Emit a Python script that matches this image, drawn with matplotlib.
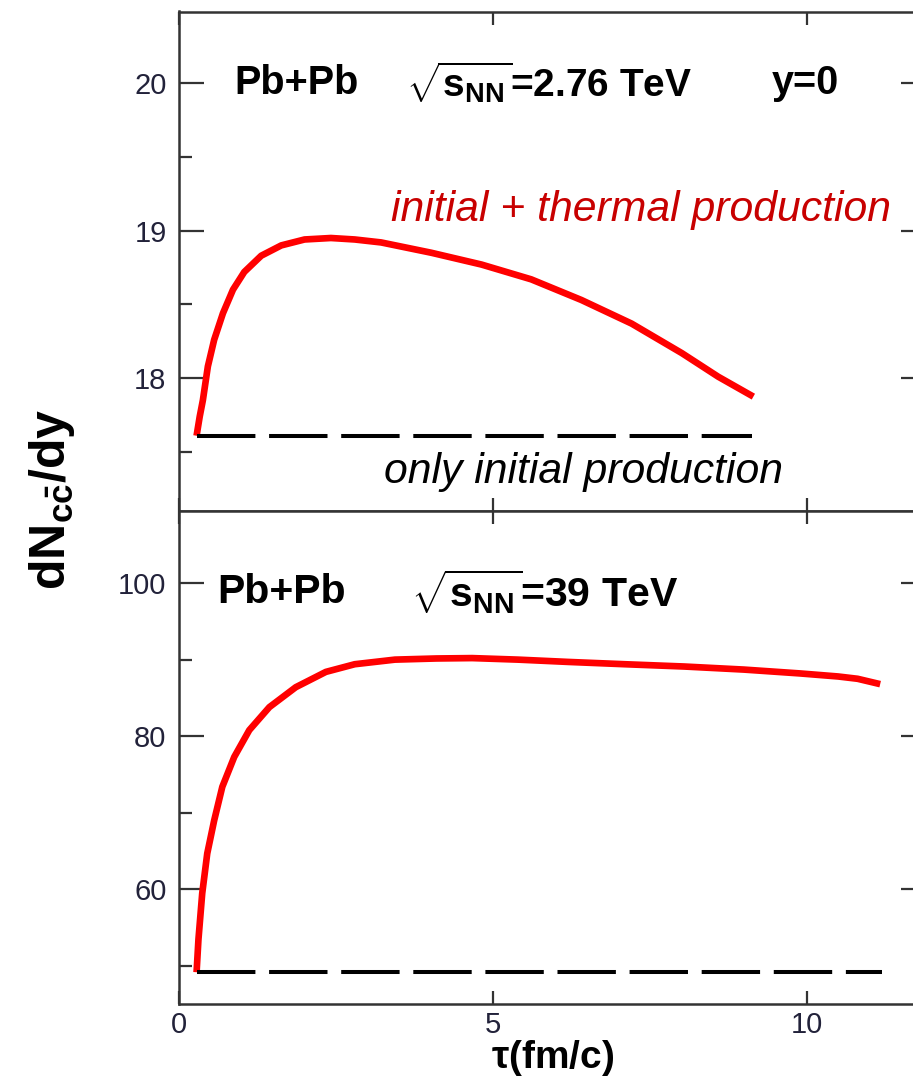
import matplotlib
matplotlib.use("Agg")
import matplotlib.pyplot as plt
from matplotlib.ticker import MultipleLocator

plt.rcParams['font.family'] = ['Liberation Sans', 'DejaVu Sans']
plt.rcParams['mathtext.fontset'] = 'custom'
plt.rcParams['mathtext.rm'] = 'Liberation Sans'
plt.rcParams['mathtext.bf'] = 'Liberation Sans:bold'
plt.rcParams['mathtext.default'] = 'bf'

# Pb+Pb at 2.76 TeV, y=0
tau_lhc = [0.28, 0.33, 0.38, 0.46, 0.56, 0.70, 0.86, 1.04, 1.31, 1.63, 2.00,
           2.42, 2.80, 3.22, 4.02, 4.82, 5.61, 6.41, 7.21, 8.01, 8.59, 9.15]
n_lhc = [17.61, 17.74, 17.85, 18.08, 18.26, 18.44, 18.60, 18.72, 18.83, 18.90,
         18.94, 18.95, 18.94, 18.92, 18.85, 18.77, 18.67, 18.53, 18.37, 18.17,
         18.01, 17.875]
n0_lhc = 17.61
tau_end_lhc = 9.13

# Pb+Pb at 39 TeV
tau_fcc = [0.28, 0.31, 0.37, 0.45, 0.56, 0.69, 0.88, 1.12, 1.44, 1.86, 2.34,
           2.80, 3.44, 4.10, 4.67, 5.40, 6.20, 7.10, 8.05, 9.00, 9.89, 10.50,
           10.81, 11.17]
n_fcc = [49.2, 53.5, 59.5, 64.7, 69.0, 73.4, 77.3, 80.8, 83.8, 86.4, 88.4,
         89.4, 90.0, 90.15, 90.2, 90.0, 89.7, 89.4, 89.1, 88.7, 88.2, 87.8,
         87.5, 86.8]
n0_fcc = 49.2
tau_end_fcc = 11.2

W, H = 913, 1078
fig = plt.figure(figsize=(W / 100, H / 100), dpi=100)
left = 179 / W
width = (926 - 179) / W
ax1 = fig.add_axes([left, 1 - 511 / H, width, (511 - 11.5) / H])
ax2 = fig.add_axes([left, 1 - 1004 / H, width, (1004 - 511) / H])

red = '#ff0000'
dash = (0, (14.5, 3.4))
tick_col = '#22223a'

for ax in (ax1, ax2):
    ax.set_xlim(0, 11.9)
    ax.xaxis.set_major_locator(MultipleLocator(5))
    for s in ax.spines.values():
        s.set_linewidth(1.8)
        s.set_color('#333333')
    ax.tick_params(which='both', direction='in', top=True, right=True,
                   width=1.6, color='#333333', labelcolor=tick_col,
                   labelsize=21)
    ax.tick_params(axis='y', which='major', length=18, pad=9)
    ax.tick_params(axis='y', which='minor', length=9.5)
    ax.tick_params(axis='x', which='major', length=9.5, pad=5)

ax1.plot(tau_lhc, n_lhc, color=red, lw=4.8, solid_capstyle='butt',
         solid_joinstyle='round')
ax1.plot([tau_lhc[0], tau_end_lhc], [n0_lhc, n0_lhc], color='black',
         lw=2.9, linestyle=dash, dash_capstyle='butt')
ax1.set_ylim(17.1, 20.485)
ax1.yaxis.set_major_locator(MultipleLocator(1))
ax1.yaxis.set_minor_locator(MultipleLocator(0.5))
ax1.tick_params(axis='x', labelbottom=False)

ax2.plot(tau_fcc, n_fcc, color=red, lw=4.8, solid_capstyle='butt',
         solid_joinstyle='round')
ax2.plot([tau_fcc[0], tau_end_fcc], [n0_fcc, n0_fcc], color='black',
         lw=2.9, linestyle=dash, dash_capstyle='butt')
ax2.set_ylim(45.05, 109.4)
ax2.yaxis.set_major_locator(MultipleLocator(20))
ax2.yaxis.set_minor_locator(MultipleLocator(10))

# annotations
ax1.text(0.88, 20.0, 'Pb+Pb', fontsize=28.5, fontweight='bold', va='center')
ax1.text(3.62, 20.0, r'$\sqrt{s_{NN}}$=2.76 TeV', fontsize=28,
         fontweight='bold', va='center')
ax1.text(9.44, 20.0, 'y=0', fontsize=28.5, fontweight='bold', va='center')
ax1.text(3.38, 19.14, 'initial + thermal production', fontsize=30.8,
         style='italic', color='#c80000', va='center')
ax1.text(3.27, 17.365, 'only initial production', fontsize=30.8,
         style='italic', color='black', va='center')

ax2.text(0.61, 98.8, 'Pb+Pb', fontsize=29.5, fontweight='bold', va='center')
ax2.text(3.70, 98.8, r'$\sqrt{s_{NN}}$=39 TeV', fontsize=29.5,
         fontweight='bold', va='center')

fig.text(52 / W, 1 - 499 / H, r'dN$_{c\bar{c}}$/dy', fontsize=36,
         fontweight='bold', rotation=90, ha='center', va='center')
fig.text(553 / W, 1 - 1058 / H, r'$\tau$(fm/c)', fontsize=28,
         fontweight='bold', ha='center', va='center')

fig.savefig('out.png', dpi=100)
